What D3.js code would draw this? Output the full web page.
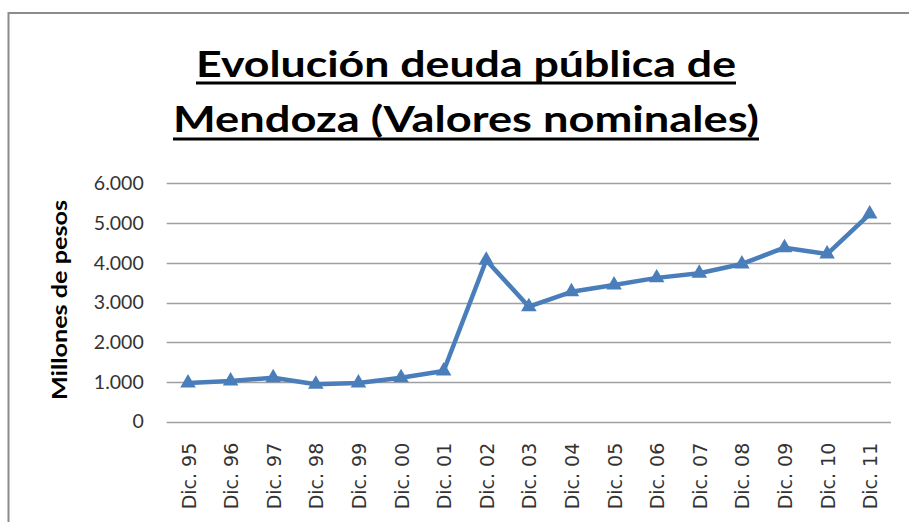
<!DOCTYPE html>
<html>
<head>
<meta charset="utf-8">
<script src="https://cdn.jsdelivr.net/npm/d3@7"></script>
<style>
  html, body { margin: 0; padding: 0; background: #fff; }
  svg { display: block; }
</style>
</head>
<body>
<svg id="chart" width="909" height="522"></svg>
<script>
// Data
const categories = ['Dic. 95', 'Dic. 96', 'Dic. 97', 'Dic. 98', 'Dic. 99', 'Dic. 00', 'Dic. 01', 'Dic. 02', 'Dic. 03',
    'Dic. 04', 'Dic. 05', 'Dic. 06', 'Dic. 07', 'Dic. 08', 'Dic. 09', 'Dic. 10', 'Dic. 11'];
const deuda = [975, 1025, 1105, 945, 975, 1105, 1275, 4065, 2895, 3270, 3440, 3620, 3735, 3970, 4380, 4220, 5225];
const yTicks = [0, 1000, 2000, 3000, 4000, 5000, 6000];
const titleLines = ['Evolución deuda pública de', 'Mendoza (Valores nominales)'];
const yTitle = 'Millones de pesos';

const svg = d3.select('#chart');
const lineColor = '#4A7EBB';
const gridColor = '#a0a0a0';

// Chart frame (only top and left edges fall inside the picture)
svg.append('path')
    .attr('d', 'M8.5,530 L8.5,13 L920,13')
    .attr('fill', 'none')
    .attr('stroke', '#8c8c8c')
    .attr('stroke-width', 2);

// Title, two underlined lines
const titleFont = 'Lato, "Open Sans", sans-serif';
const titleRows = [
    { text: titleLines[0], y: 77, width: 540, ul: 83 },
    { text: titleLines[1], y: 132, width: 586, ul: 139 }
];
const cx = 466;
titleRows.forEach(r => {
    svg.append('text')
        .attr('x', cx)
        .attr('y', r.y)
        .attr('text-anchor', 'middle')
        .attr('font-family', titleFont)
        .attr('font-weight', 'bold')
        .attr('font-size', 37)
        .attr('textLength', r.width)
        .attr('lengthAdjust', 'spacingAndGlyphs')
        .attr('fill', '#000')
        .text(r.text);
    svg.append('line')
        .attr('x1', cx - r.width / 2)
        .attr('x2', cx + r.width / 2)
        .attr('y1', r.ul)
        .attr('y2', r.ul)
        .attr('stroke', '#000')
        .attr('stroke-width', 3);
});

// Scales
const plot = { left: 166.7, right: 891, top: 183.3, bottom: 421.7 };
const x = d3.scalePoint()
    .domain(categories)
    .range([plot.left, plot.right])
    .padding(0.5);
const y = d3.scaleLinear()
    .domain([0, 6000])
    .range([plot.bottom, plot.top]);

const locale = d3.formatLocale({ decimal: ',', thousands: '.', grouping: [3], currency: ['$', ''] });
const fmt = locale.format(',');

// Gridlines
svg.append('g')
    .selectAll('line')
    .data(yTicks)
    .enter()
    .append('line')
    .attr('x1', plot.left)
    .attr('x2', plot.right)
    .attr('y1', d => Math.round(y(d)) + 0.5)
    .attr('y2', d => Math.round(y(d)) + 0.5)
    .attr('stroke', gridColor)
    .attr('stroke-width', 1.5);

// Y axis labels
const yAxis = svg.append('g')
    .attr('transform', `translate(${plot.left},0)`)
    .call(d3.axisLeft(y).tickValues(yTicks).tickFormat(d => fmt(d)).tickSize(0).tickPadding(23));
yAxis.select('.domain').remove();
yAxis.selectAll('text')
    .attr('font-family', 'Lato, "Open Sans", sans-serif')
    .attr('font-size', 19.5)
    .attr('fill', '#333');

// Y title
svg.append('text')
    .attr('transform', 'translate(67,300) rotate(-90)')
    .attr('text-anchor', 'middle')
    .attr('font-family', 'Lato, "Open Sans", sans-serif')
    .attr('font-weight', 'bold')
    .attr('font-size', 20)
    .attr('textLength', 200)
    .attr('lengthAdjust', 'spacingAndGlyphs')
    .attr('fill', '#000')
    .text(yTitle);

// X axis labels, rotated
const xAxis = svg.append('g')
    .attr('transform', `translate(0,${plot.bottom})`)
    .call(d3.axisBottom(x).tickSize(0).tickPadding(0));
xAxis.select('.domain').remove();
xAxis.selectAll('text')
    .attr('font-family', '"DejaVu Sans", sans-serif')
    .attr('font-weight', 'normal')
    .attr('font-size', 19)
    .attr('fill', '#333')
    .attr('text-anchor', 'end')
    .attr('dy', null)
    .attr('y', 0)
    .attr('transform', 'translate(7,21) rotate(-90)');

// Line
const line = d3.line()
    .x((d, i) => x(categories[i]))
    .y(d => y(d));
svg.append('path')
    .datum(deuda)
    .attr('d', line)
    .attr('fill', 'none')
    .attr('stroke', lineColor)
    .attr('stroke-width', 4.5)
    .attr('stroke-linejoin', 'round');

// Triangle markers
svg.selectAll('.marker')
    .data(deuda)
    .enter()
    .append('path')
    .attr('class', 'marker')
    .attr('d', d3.symbol().type(d3.symbolTriangle).size(105))
    .attr('transform', (d, i) => `translate(${x(categories[i])},${y(d)})`)
    .attr('fill', lineColor);
</script>
</body>
</html>
